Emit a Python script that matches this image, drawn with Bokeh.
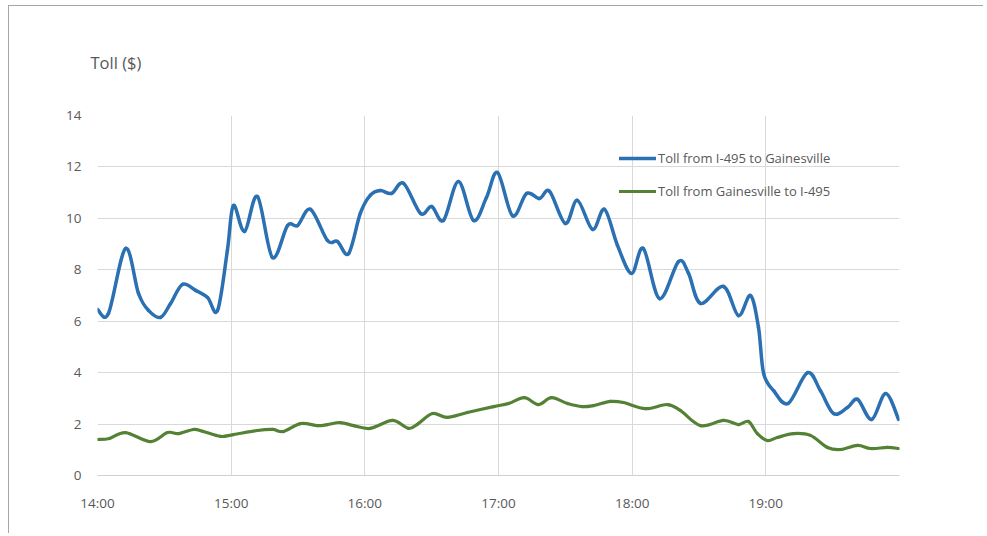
from bokeh.plotting import figure
from bokeh.models import (ColumnDataSource, FixedTicker, Legend, LegendItem, Range1d)
from bokeh.embed import file_html
from bokeh.resources import INLINE

# minutes after 14:00 and toll values ($)
blue_min = [0, 4.9, 12.6, 18.4, 22.9, 28.3, 32.8, 38.1, 44, 49.4,
            53.9, 58.3, 61, 66, 71.8, 78.5, 85.3, 89.8, 95.6, 103.2,
            107.7, 112.7, 118, 122.5, 127, 132, 137.4, 145, 150, 155.3,
            162, 168.8, 174.6, 179.6, 186.3, 192.6, 198.4, 202.9, 210, 215.4,
            222.2, 227.6, 233.4, 239.7, 245, 252.3, 260.8, 265.3, 270.7, 281,
            287.7, 293.1, 296.7, 299, 303.5, 310, 318.7, 324.5, 330.4, 336.6,
            341.2, 347.5, 353.8, 359.6]
blue_val = [6.46, 6.3, 8.83, 7.08, 6.42, 6.15, 6.69, 7.43, 7.2, 6.92,
            6.42, 8.75, 10.5, 9.49, 10.85, 8.48, 9.72, 9.72, 10.35, 9.14,
            9.1, 8.63, 10.2, 10.9, 11.08, 10.97, 11.36, 10.19, 10.46, 9.92,
            11.43, 9.92, 10.81, 11.78, 10.1, 10.97, 10.77, 11.05, 9.8, 10.7,
            9.57, 10.35, 8.95, 7.86, 8.83, 6.88, 8.32, 7.86, 6.69, 7.35,
            6.22, 7.0, 5.76, 3.97, 3.3, 2.8, 4.0, 3.3, 2.41, 2.64,
            2.96, 2.18, 3.19, 2.18]

green_min = [0, 5.4, 12.6, 23.8, 31.4, 36.4, 43.1, 47.6, 55.2, 61,
             71.8, 78.6, 83.5, 91.1, 98.8, 103.2, 109, 115, 122.5, 132.4,
             139.6, 144, 150.4, 157, 166, 177.8, 184.5, 191.6, 197.9, 203.8,
             211, 217.7, 222.6, 230.3, 236, 246, 255.8, 261.6, 270.7, 281,
             287.7, 292.2, 296.2, 300.7, 305.2, 312.4, 320, 327.7, 333.5, 341.2,
             347, 354.6, 359.6]
green_val = [1.4, 1.44, 1.67, 1.32, 1.67, 1.63, 1.79, 1.71, 1.52, 1.59,
             1.75, 1.79, 1.71, 2.02, 1.94, 1.98, 2.06, 1.94, 1.83, 2.14,
             1.83, 2.02, 2.41, 2.26, 2.45, 2.68, 2.8, 3.03, 2.76, 3.03,
             2.8, 2.68, 2.72, 2.88, 2.84, 2.6, 2.76, 2.53, 1.94, 2.14,
             1.98, 2.1, 1.63, 1.36, 1.48, 1.63, 1.56, 1.09, 1.01, 1.17,
             1.05, 1.09, 1.05]

tick_hours = [14, 15, 16, 17, 18, 19]
tick_labels = ["14:00", "15:00", "16:00", "17:00", "18:00", "19:00"]
y_ticks = [0, 2, 4, 6, 8, 10, 12, 14]

series_names = ["Toll from I-495 to Gainesville", "Toll from Gainesville to I-495"]
series_colors = ["#2A70B2", "#548235"]
y_title = "Toll ($)"

FONT = "Open Sans"
GRAY = "#595959"

W, H = 975, 528


def smooth_segments(mins, vals):
    xs = [14 + m / 60.0 for m in mins]
    ys = list(vals)
    n = len(xs)
    d = dict(x0=[], y0=[], x1=[], y1=[], cx0=[], cy0=[], cx1=[], cy1=[])
    for i in range(n - 1):
        ip = max(i - 1, 0)
        inn = min(i + 2, n - 1)
        d["x0"].append(xs[i]); d["y0"].append(ys[i])
        d["x1"].append(xs[i + 1]); d["y1"].append(ys[i + 1])
        d["cx0"].append(xs[i] + (xs[i + 1] - xs[ip]) / 6.0)
        d["cy0"].append(ys[i] + (ys[i + 1] - ys[ip]) / 6.0)
        d["cx1"].append(xs[i + 1] - (xs[inn] - xs[i]) / 6.0)
        d["cy1"].append(ys[i + 1] - (ys[inn] - ys[i]) / 6.0)
    return ColumnDataSource(d)


p = figure(width=W, height=H, output_backend="svg", toolbar_location=None,
           x_range=Range1d(14, 20), y_range=Range1d(0, 14),
           min_border_left=88, min_border_right=W - 88 - 802, min_border_top=109,
           min_border_bottom=H - 109 - 360)
p.styles = {"margin-left": "8px", "margin-top": "5px",
            "border-left": "1px solid #a6a6a6", "border-top": "1px solid #a6a6a6"}
p.outline_line_color = None
p.background_fill_color = "white"
p.border_fill_color = "white"

p.title.text = y_title
p.title.align = "left"
p.title.offset = -7
p.title.standoff = 83
p.title.text_font = FONT
p.title.text_font_size = "16.5px"
p.title.text_font_style = "normal"
p.title.text_color = GRAY

p.xaxis.ticker = FixedTicker(ticks=tick_hours)
p.xaxis.major_label_overrides = {h: l for h, l in zip(tick_hours, tick_labels)}
p.yaxis.ticker = FixedTicker(ticks=y_ticks)
p.xgrid.ticker = FixedTicker(ticks=tick_hours)

for ax in (p.xaxis, p.yaxis):
    ax.major_tick_line_color = None
    ax.minor_tick_line_color = None
    ax.major_label_text_font = FONT
    ax.major_label_text_font_size = "13.5px"
    ax.major_label_text_color = GRAY
p.yaxis.axis_line_color = None
p.xaxis.axis_line_color = "#d0d0d0"
p.xaxis.major_label_standoff = 12
p.yaxis.major_label_standoff = 10
p.xgrid.grid_line_color = "#d9d9d9"
p.ygrid.grid_line_color = "#d9d9d9"

renderers = []
for mins, vals, color, w in ((blue_min, blue_val, series_colors[0], 3.5),
                             (green_min, green_val, series_colors[1], 3.2)):
    src = smooth_segments(mins, vals)
    r = p.bezier(x0="x0", y0="y0", x1="x1", y1="y1", cx0="cx0", cy0="cy0",
                 cx1="cx1", cy1="cy1", source=src, line_color=color, line_width=w,
                 line_cap="round")
    renderers.append(r)

legend = Legend(items=[LegendItem(label=n, renderers=[r]) for n, r in zip(series_names, renderers)],
                location=(522, 274), padding=0, margin=0, spacing=13,
                glyph_width=37, glyph_height=20, label_height=20, label_standoff=2,
                label_text_font=FONT, label_text_font_size="13px",
                label_text_color=GRAY, border_line_color=None,
                background_fill_alpha=0)
p.add_layout(legend)

open("out.html", "w").write(file_html(p, INLINE))
